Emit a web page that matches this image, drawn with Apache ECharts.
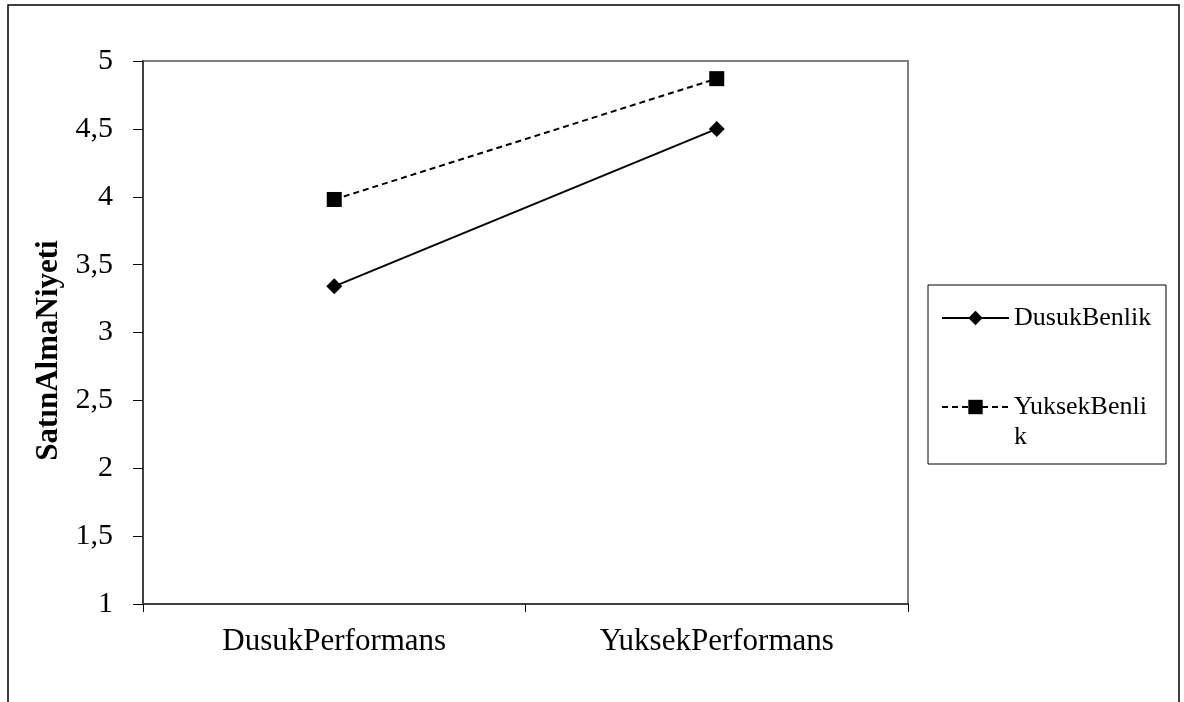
<!DOCTYPE html>
<html>
<head>
<meta charset="utf-8">
<script src="https://cdn.jsdelivr.net/npm/echarts@6/dist/echarts.min.js"></script>
<style>
html,body{margin:0;padding:0;background:#fff;}
#main{width:1184px;height:702px;}
</style>
</head>
<body>
<div id="main"></div>
<script>
// veriler
var categories = ['DusukPerformans', 'YuksekPerformans'];
var dusukBenlik = [3.34, 4.5];
var yuksekBenlik = [3.98, 4.87];
var yTicks = [1, 1.5, 2, 2.5, 3, 3.5, 4, 4.5, 5];

var font = '"Liberation Serif", "Times New Roman", serif';
var myChart = echarts.init(document.getElementById('main'));

var option = {
    backgroundColor: '#fff',
    animation: false,
    textStyle: {fontFamily: font},
    grid: {
        left: 143, top: 61, width: 765, height: 543,
        show: true,
        borderColor: '#808080',
        borderWidth: 2
    },
    legend: {
        orient: 'vertical',
        left: 928,
        top: 285,
        padding: [18, 11, 12, 13],
        itemGap: 29,
        itemWidth: 67,
        itemHeight: 18,
        itemTextGap: 10,
        borderColor: '#000',
        borderWidth: 1,
        textStyle: {
            fontFamily: font,
            fontSize: 26,
            color: '#000',
            width: 141,
            overflow: 'breakAll',
            lineHeight: 30
        },
        // ikinci kaydin ilk satiri ikonla ayni hizada olsun diye bos satir
        formatter: function (name) {
            return name === 'YuksekBenlik' ? '\n' + name : name;
        },
        data: ['DusukBenlik', 'YuksekBenlik']
    },
    xAxis: {
        type: 'category',
        data: categories,
        boundaryGap: true,
        axisLine: {lineStyle: {color: '#404040', width: 2}},
        axisTick: {show: true, length: 8, lineStyle: {color: '#000'}},
        axisLabel: {
            fontFamily: font,
            fontSize: 31,
            color: '#000',
            margin: 22
        },
        splitLine: {show: false}
    },
    yAxis: {
        type: 'value',
        min: yTicks[0],
        max: yTicks[yTicks.length - 1],
        interval: 0.5,
        name: 'SatınAlmaNiyeti',
        nameLocation: 'middle',
        nameGap: 65,
        nameTextStyle: {
            fontFamily: font,
            fontSize: 31,
            fontWeight: 'bold',
            color: '#000',
            padding: [0, 36, 0, 0]
        },
        axisLine: {show: true, lineStyle: {color: '#404040', width: 2}},
        axisTick: {show: true, length: 10, lineStyle: {color: '#000'}},
        axisLabel: {
            fontFamily: font,
            fontSize: 30,
            color: '#000',
            margin: 30,
            formatter: function (v) {
                return String(v).replace('.', ',');
            }
        },
        splitLine: {show: false}
    },
    graphic: [
        {
            // dis cerceve
            type: 'rect',
            shape: {x: 8, y: 5, width: 1171, height: 720},
            style: {fill: 'none', stroke: '#000', lineWidth: 1.5},
            silent: true
        }
    ],
    series: [
        {
            name: 'DusukBenlik',
            type: 'line',
            data: dusukBenlik,
            symbol: 'diamond',
            symbolSize: 16,
            itemStyle: {color: '#000'},
            lineStyle: {color: '#000', width: 2, type: 'solid'}
        },
        {
            name: 'YuksekBenlik',
            type: 'line',
            data: yuksekBenlik,
            symbol: 'rect',
            symbolSize: 15,
            itemStyle: {color: '#000'},
            lineStyle: {color: '#000', width: 2, type: [6, 4]}
        }
    ]
};

if (option && typeof option === 'object') {
    myChart.setOption(option, true);
}
</script>
</body>
</html>
